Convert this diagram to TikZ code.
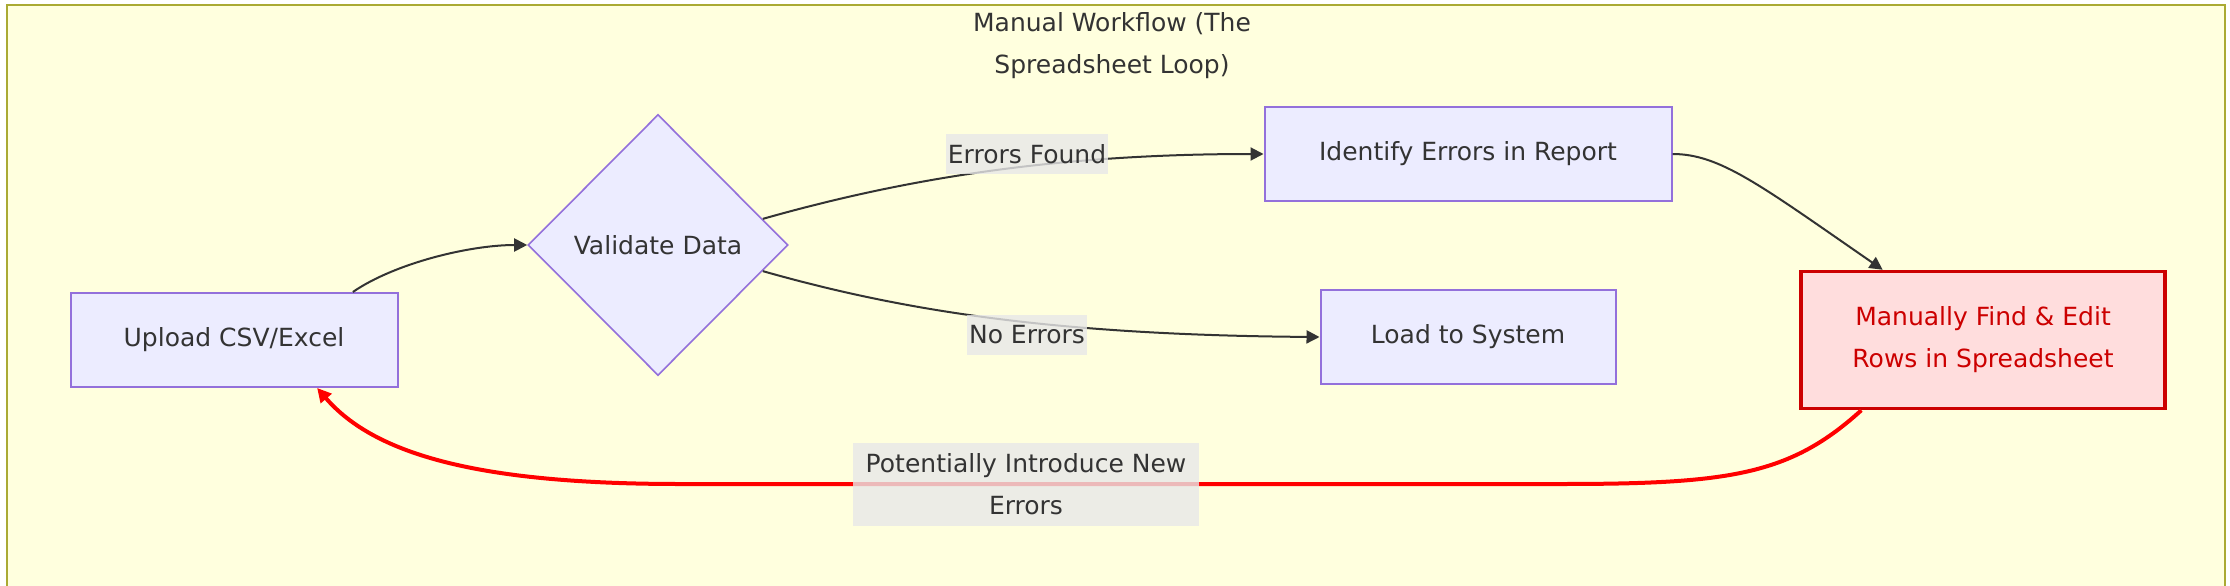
\documentclass[tikz,border=0pt]{standalone}
\usepackage{fontspec}
\setmainfont{DejaVu Sans}
\usepackage{tikz}
\usetikzlibrary{arrows.meta,positioning,shapes.geometric}
\usepackage{xcolor}
\definecolor{mmFrame}{HTML}{FFFFDE}
\definecolor{mmFrameBorder}{HTML}{AAAA33}
\definecolor{mmNode}{HTML}{ECECFF}
\definecolor{mmNodeBorder}{HTML}{9370DB}
\definecolor{mmText}{HTML}{333333}
\definecolor{mmLabel}{HTML}{E8E8E8}
\definecolor{mmAlert}{HTML}{CC0000}
\definecolor{mmAlertFill}{HTML}{FFDDDD}
\definecolor{mmLoop}{HTML}{FF0000}
\tikzset{
    every picture/.style={
        font=\fontsize{12.5}{21}\selectfont,
        >=Triangle
    },
    % Node styles
    stepbox/.style={rectangle,draw=mmNodeBorder,fill=mmNode,line width=1pt,text=mmText,minimum height=47pt,align=center,inner sep=0pt},
    checkbox/.style={diamond,draw=mmNodeBorder,fill=mmNode,line width=0.8pt,text=mmText,minimum width=130pt,minimum height=130.5pt,inner sep=0pt},
    alertbox/.style={rectangle,draw=mmAlert,fill=mmAlertFill,line width=1.75pt,text=mmAlert,minimum width=182pt,minimum height=68.5pt,align=center,inner sep=0pt},
    % Flow styles
    flow/.style={-{Triangle[length=6.5pt,width=6.5pt]},line width=1pt,mmText},
    loopflow/.style={-{Triangle[length=7pt,width=7pt]},line width=2pt,mmLoop}
}

\begin{document}
\begin{tikzpicture}[x=0.5pt,y=0.5pt,
    edgelabel/.style={fill=mmLabel,fill opacity=0.8,text opacity=1,text=mmText,inner xsep=1pt,inner ysep=0pt,minimum height=20pt,align=center}
]
  \useasboundingbox (0,0) rectangle (2230,585);

  % Subgraph frame
  \draw[fill=mmFrame,draw=mmFrameBorder,line width=0.9pt] (7,-10) rectangle (2225,580);
  \node[text=mmText,align=center] (title) at (1112,539) {Manual Workflow (The\\Spreadsheet Loop)};

  % Workflow nodes
  \node[stepbox,minimum width=163.5pt] (upload) at (234,245) {Upload CSV/Excel};
  \node[checkbox] (validate) at (658,340) {Validate Data};
  \node[stepbox,minimum width=203.5pt] (identify) at (1468,431) {Identify Errors in Report};
  \node[stepbox,minimum width=147.5pt,below=43.5pt of identify] (load) {Load to System};
  \node[alertbox] (manual) at (1983,245) {Manually Find \& Edit\\Rows in Spreadsheet};

  % Connectors
  \draw[flow] (upload.22) .. controls (395,322) and (470,340) .. (validate.west);
  \draw[flow] (validate.14) .. controls (900,405) and (1050,431) .. (identify.west);
  \draw[flow] (validate.-14) .. controls (900,275) and (1050,250) .. (load.west);
  \draw[flow] (identify.east) .. controls (1720,431) and (1760,400) .. (manual.145);
  \draw[loopflow] (manual.210) .. controls (1790,110) and (1730,101) .. (1560,101) -- (680,101) .. controls (480,101) and (375,130) .. (upload.-30);

  % Edge labels
  \node[edgelabel] (found) at (1027,431) {Errors Found};
  \node[edgelabel] (noerr) at (1027,250) {No Errors};
  \node[edgelabel,minimum width=173pt,minimum height=41.5pt] (newerr) at (1026,101) {Potentially Introduce New\\Errors};
\end{tikzpicture}
\end{document}
